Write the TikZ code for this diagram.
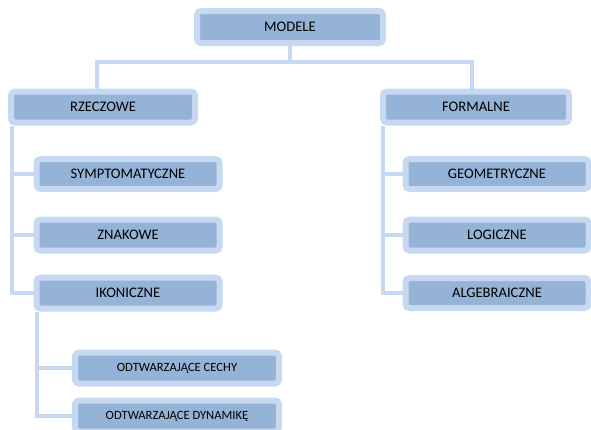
\documentclass[tikz,border=0pt]{standalone}
\usepackage{fontspec}
\setmainfont{Carlito}
\usetikzlibrary{positioning}

\definecolor{boxfill}{HTML}{95B3D7}
\definecolor{boxedge}{HTML}{C6D9F1}

\begin{document}
\begin{tikzpicture}[x=1pt,y=-1pt,
    box/.style = {align=center, text centered, font=\fontsize{14.6}{16}\selectfont,
        rectangle, rounded corners=4pt, fill=boxfill, draw=boxedge,
        line width=6pt, minimum width=184pt, minimum height=31pt, inner sep=0pt},
    small/.style = {box, font=\fontsize{12.6}{14}\selectfont, minimum width=204pt},
    link/.style = {draw=boxedge, line width=4pt}]
  \useasboundingbox (0,0) rectangle (591,429);
  % top level
  \node[box, minimum width=186pt, minimum height=32pt] (mod) at (290,27) {MODELE};
  \node[box] (rz) at (103,107) {RZECZOWE};
  \node[box, minimum width=186pt] (fm) at (476,107) {FORMALNE};
  % left branch
  \node[box, minimum width=183pt, minimum height=30pt] (sym) at (128,174) {SYMPTOMATYCZNE};
  \node[box, minimum width=183pt, minimum height=31pt] (zn) at (128,235) {ZNAKOWE};
  \node[box, minimum width=183pt, minimum height=31pt] (ik) at (128,293) {IKONICZNE};
  \node[small] (cech) at (177,368) {ODTWARZAJĄCE CECHY};
  \node[small] (dyn) at (177,416) {ODTWARZAJĄCE DYNAMIKĘ};
  % right branch
  \node[box, minimum width=183pt, minimum height=30pt] (geo) at (497,174) {GEOMETRYCZNE};
  \node[box, minimum width=183pt, minimum height=31pt] (log) at (497,235) {LOGICZNE};
  \node[box, minimum width=183pt, minimum height=30pt] (alg) at (497,293) {ALGEBRAICZNE};

  % connectors
  \draw[link] (mod.south) -- ++(0,16) coordinate (hub);
  \draw[link] ([xshift=-6pt]rz.north) |- (hub) -| ([xshift=-4pt]fm.north);
  \coordinate (lt) at ([xshift=4pt]rz.south west);
  \draw[link] (lt) |- (ik.west);
  \draw[link] (sym.west) -- (sym.west -| lt);
  \draw[link] (zn.west) -- (zn.west -| lt);
  \coordinate (rt) at ([xshift=3pt]fm.south west);
  \draw[link] (rt) |- (alg.west);
  \draw[link] (geo.west) -- (geo.west -| rt);
  \draw[link] (log.west) -- (log.west -| rt);
  \coordinate (it) at ([xshift=3pt]ik.south west);
  \draw[link] (it) |- (dyn.west);
  \draw[link] (cech.west) -- (cech.west -| it);
\end{tikzpicture}
\end{document}
